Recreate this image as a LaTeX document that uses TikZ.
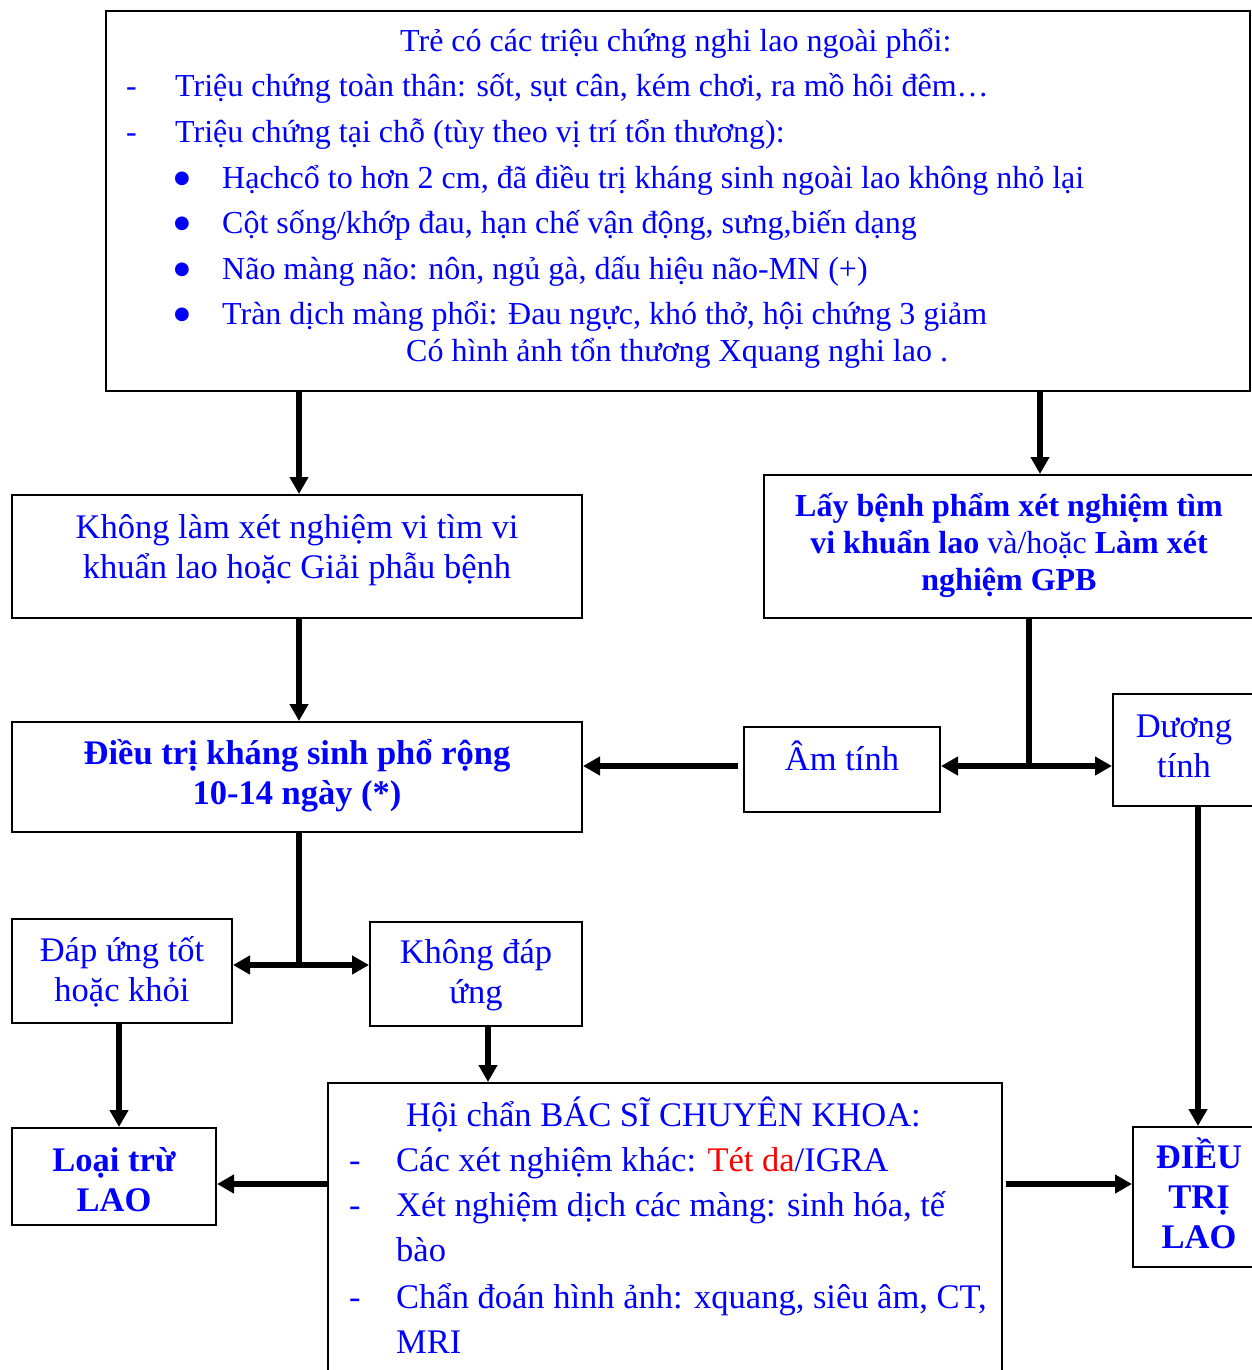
\documentclass[tikz,border=0pt]{standalone}
\usepackage{fontspec}
\setmainfont{Liberation Serif}
\newfontfamily\symfont{DejaVu Sans}
\usetikzlibrary{arrows.meta,calc}
\definecolor{tblue}{RGB}{0,0,255}
\definecolor{tred}{RGB}{255,0,0}
\newcommand{\fsA}{\fontsize{32}{37}\selectfont}
\newcommand{\fsB}{\fontsize{34.5}{40}\selectfont}
\newcommand{\dashitem}[2]{\makebox[#1][l]{-}#2}
\newcommand{\bulitem}[1]{\makebox[48.2pt][l]{\raisebox{4.9pt}{\symfont\fontsize{18}{18}\selectfont ●}}#1}
% top strut of height #1, bottom strut of depth #1
\newcommand{\hs}[1]{\rule{0pt}{#1pt}}
\newcommand{\ds}[1]{\rule[-#1pt]{0pt}{#1pt}}
\begin{document}
\begin{tikzpicture}[x=1pt,y=-1pt,
  box/.style={draw=black, line width=2pt, inner sep=0pt, anchor=north west, text=tblue, align=center},
  ln/.style={line width=5.5pt},
  arr/.style={ln, -{Triangle[length=17pt,width=18pt]}},
  darr/.style={ln, {Triangle[length=17pt,width=18pt]}-{Triangle[length=17pt,width=18pt]}},
  txtA/.style={anchor=base west, inner sep=0pt, text=tblue, font=\fsA},
  txtB/.style={anchor=base west, inner sep=0pt, text=tblue, font=\fsB}]
\fill[white] (0,0) rectangle (1252,1370);
\useasboundingbox (0,0) rectangle (1252,1370);

% boxes
\node[box, minimum width=1144pt, minimum height=380pt] (top) at (105,10) {};
\node[box, font=\fsB, minimum width=570pt, minimum height=123pt] (nolab) at (11,494)
  {\hs{36}Không làm xét nghiệm vi tìm vi\\khuẩn lao hoặc Giải phẫu bệnh\ds{33}};
\node[box, font=\fsA\bfseries, minimum width=490pt, minimum height=143pt] (lay) at (763,474)
  {\hs{36}Lấy bệnh phẩm xét nghiệm tìm\\vi khuẩn lao {\mdseries và/hoặc} Làm xét\\nghiệm GPB\ds{23}};
\node[box, font=\fsB\bfseries, minimum width=570pt, minimum height=110pt] (dtks) at (11,721)
  {\hs{36}Điều trị kháng sinh phổ rộng\\10-14 ngày (*)\ds{22}};
\node[box, font=\fsB, minimum width=196pt, minimum height=85pt] (am) at (743,726)
  {\hs{36}Âm tính\ds{35}};
\node[box, font=\fsB, minimum width=142pt, minimum height=112pt] (duong) at (1112,693)
  {\hs{36}Dương\\tính\ds{21}};
\node[box, font=\fsB, minimum width=220pt, minimum height=104pt] (dap) at (11,918)
  {\hs{38}Đáp ứng tốt\\hoặc khỏi\ds{18}};
\node[box, font=\fsB, minimum width=212pt, minimum height=104pt] (khong) at (369,921)
  {\hs{38}Không đáp\\ứng\ds{20}};
\node[box, font=\fsB\bfseries, minimum width=204pt, minimum height=97pt] (loai) at (11,1127)
  {\hs{43}Loại trừ\\LAO\ds{14}};
\node[box, minimum width=674pt, minimum height=340pt] (hoi) at (327,1082) {};
\node[box, font=\fsB\bfseries, minimum width=132pt, minimum height=140pt] (dtl) at (1132,1126)
  {\hs{41}ĐIỀU\\TRỊ\\LAO\ds{19}};

% top box text
\node[txtA] (t1) at (400,52) {Trẻ có các triệu chứng nghi lao ngoài phổi:};
\node[txtA] (t2) at (126,97) {\dashitem{49pt}{Triệu chứng toàn thân: sốt, sụt cân, kém chơi, ra mồ hôi đêm…}};
\node[txtA] (t3) at (126,142.5) {\dashitem{49pt}{Triệu chứng tại chỗ (tùy theo vị trí tổn thương):}};
\node[txtA] (t4) at (173.8,188) {\bulitem{Hạchcổ to hơn 2 cm, đã điều trị kháng sinh ngoài lao không nhỏ lại}};
\node[txtA] (t5) at (173.8,233.5) {\bulitem{Cột sống/khớp đau, hạn chế vận động, sưng,biến dạng}};
\node[txtA] (t6) at (173.8,279) {\bulitem{Não màng não: nôn, ngủ gà, dấu hiệu não-MN (+)}};
\node[txtA] (t7) at (173.8,324) {\bulitem{Tràn dịch màng phổi: Đau ngực, khó thở, hội chứng 3 giảm}};
\node[txtA] (t8) at (406,361) {Có hình ảnh tổn thương Xquang nghi lao .};

% hoi chan text
\node[txtB] (h1) at (406,1126.5) {Hội chẩn BÁC SĨ CHUYÊN KHOA:};
\node[txtB] (h2) at (349,1171.5) {\dashitem{47pt}{Các xét nghiệm khác: \textcolor{tred}{Tét da}/IGRA}};
\node[txtB] (h3) at (349,1216.5) {\dashitem{47pt}{Xét nghiệm dịch các màng: sinh hóa, tế}};
\node[txtB] (h4) at (396,1261.5) {bào};
\node[txtB] (h5) at (349,1308.5) {\dashitem{47pt}{Chẩn đoán hình ảnh: xquang, siêu âm, CT,}};
\node[txtB] (h6) at (396,1353.5) {MRI};

% connectors
\coordinate (j1) at (1029,766);
\coordinate (j2) at (299,965);
\coordinate (j3) at (0,1184);
\draw[arr] (299,0 |- top.south) -- (299,0 |- nolab.north);
\draw[arr] (1040,0 |- top.south) -- (1040,0 |- lay.north);
\draw[arr] (299,0 |- nolab.south) -- (299,0 |- dtks.north);
\draw[ln] (1029,0 |- lay.south) -- (j1);
\draw[darr] (am.east |- j1) -- (duong.west |- j1);
\draw[arr] ($(am.west |- j1)+(-5,0)$) -- (dtks.east |- j1);
\draw[ln] (299,0 |- dtks.south) -- (j2);
\draw[darr] (dap.east |- j2) -- (khong.west |- j2);
\draw[arr] (119,0 |- dap.south) -- (119,0 |- loai.north);
\draw[arr] (488,0 |- khong.south) -- (488,0 |- hoi.north);
\draw[arr] (hoi.west |- j3) -- (loai.east |- j3);
\draw[arr] ($(hoi.east |- j3)+(3,0)$) -- (dtl.west |- j3);
\draw[arr] (1198,0 |- duong.south) -- (1198,0 |- dtl.north);
\end{tikzpicture}
\end{document}
